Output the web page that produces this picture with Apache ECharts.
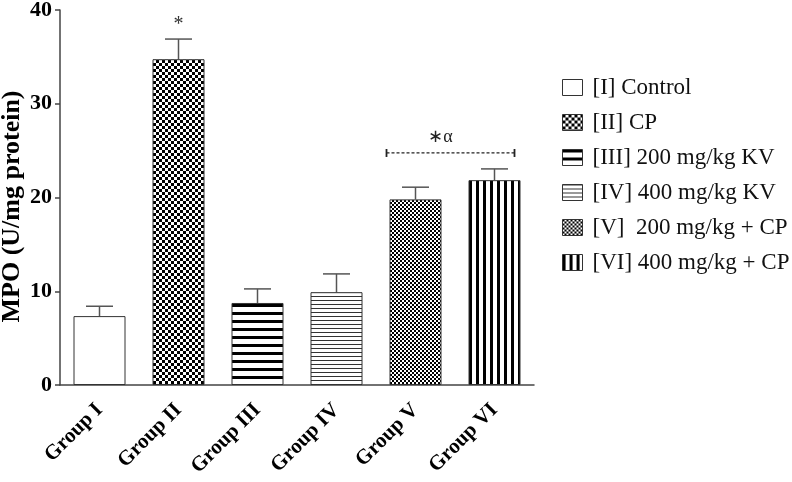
<!DOCTYPE html>
<html>
<head>
<meta charset="utf-8">
<script src="https://cdn.jsdelivr.net/npm/echarts@6/dist/echarts.min.js"></script>
<style>
  html, body { margin: 0; padding: 0; background: #fff; }
  #chart { width: 792px; height: 482px; }
</style>
</head>
<body>
<div id="chart"></div>
<script>
const groups = ['Group I', 'Group II', 'Group III', 'Group IV', 'Group V', 'Group VI']
const legendNames = ['[I] Control', '[II] CP', '[III] 200 mg/kg KV', '[IV] 400 mg/kg KV', '[V]  200 mg/kg + CP', '[VI] 400 mg/kg + CP']
const mpoMean = [7.35, 34.75, 8.75, 9.9, 19.8, 21.85]
const mpoSem = [1.05, 2.15, 1.5, 1.95, 1.3, 1.2]
const yTicks = [0, 10, 20, 30, 40]

// significance marks
const starGroup = 'Group II'
const starLevel = 38.4
const bracketGroups = ['Group V', 'Group VI']
const bracketLevel = 24.75
const bracketTextLevel = 26.45

const serif = '"Liberation Serif", "Times New Roman", serif'

function makePattern(w, h, draw) {
  const c = document.createElement('canvas')
  c.width = w
  c.height = h
  const ctx = c.getContext('2d')
  ctx.fillStyle = '#fff'
  ctx.fillRect(0, 0, w, h)
  ctx.fillStyle = '#000'
  draw(ctx)
  return { image: c, repeat: 'repeat' }
}

const fills = [
  '#fff',
  makePattern(6, 6, ctx => { ctx.fillRect(0, 0, 3, 3); ctx.fillRect(3, 3, 3, 3) }),
  makePattern(8, 8, ctx => { ctx.fillRect(0, 0, 8, 3) }),
  makePattern(4, 4, ctx => { ctx.fillStyle = '#333'; ctx.fillRect(0, 0, 4, 1) }),
  makePattern(4, 4, ctx => { ctx.fillRect(0, 0, 2, 2); ctx.fillRect(2, 2, 2, 2) }),
  makePattern(7, 7, ctx => { ctx.fillRect(0, 0, 3, 7) })
]

const barSeries = legendNames.map((name, i) => ({
  name,
  type: 'bar',
  barWidth: 52,
  barGap: '-100%',
  data: mpoMean.map((v, j) => (j === i ? v : '-')),
  itemStyle: { color: fills[i], borderColor: '#333', borderWidth: 1 },
  z: 2
}))

const errorSeries = {
  type: 'custom',
  z: 1,
  silent: true,
  data: mpoMean.map((m, i) => [i, m, m + mpoSem[i]]),
  renderItem: (params, api) => {
    const base = api.coord([api.value(0), api.value(1)])
    const top = api.coord([api.value(0), api.value(2)])
    const half = 13.5
    const style = { stroke: '#555', lineWidth: 1.5 }
    return {
      type: 'group',
      children: [
        { type: 'line', shape: { x1: base[0], y1: base[1], x2: top[0], y2: top[1] }, style },
        { type: 'line', shape: { x1: top[0] - half, y1: top[1], x2: top[0] + half, y2: top[1] }, style }
      ]
    }
  }
}

const markSeries = {
  type: 'custom',
  z: 3,
  silent: true,
  data: [0],
  renderItem: (params, api) => {
    const star = api.coord([groups.indexOf(starGroup), starLevel])
    const left = api.coord([groups.indexOf(bracketGroups[0]), bracketLevel])
    const right = api.coord([groups.indexOf(bracketGroups[1]), bracketLevel])
    const textPt = api.coord([groups.indexOf(bracketGroups[0]), bracketTextLevel])
    const x1 = left[0] - 29
    const x2 = right[0] + 20
    const y = left[1]
    return {
      type: 'group',
      children: [
        { type: 'text', style: { x: star[0], y: star[1], text: '*', font: '20px ' + serif, fill: '#333', align: 'center', verticalAlign: 'middle' } },
        { type: 'line', shape: { x1, y1: y, x2, y2: y }, style: { stroke: '#222', lineWidth: 1.2, lineDash: [3, 2] } },
        { type: 'line', shape: { x1, y1: y - 4, x2: x1, y2: y + 4 }, style: { stroke: '#222', lineWidth: 1.8 } },
        { type: 'line', shape: { x1: x2, y1: y - 4, x2, y2: y + 4 }, style: { stroke: '#222', lineWidth: 1.8 } },
        { type: 'text', style: { x: (x1 + x2) / 2 - 10, y: textPt[1], text: '∗α', font: '18px ' + serif, fill: '#222', align: 'center', verticalAlign: 'middle' } }
      ]
    }
  }
}

const chart = echarts.init(document.getElementById('chart'))
chart.setOption({
  animation: false,
  backgroundColor: '#fff',
  grid: { left: 60, top: 10, right: 258, bottom: 97, containLabel: false, outerBoundsMode: 'none' },
  legend: {
    orient: 'vertical',
    left: 562,
    top: 76,
    padding: 0,
    icon: 'rect',
    itemWidth: 20,
    itemHeight: 16,
    itemGap: 12,
    data: legendNames,
    itemStyle: { borderColor: '#333', borderWidth: 1 },
    textStyle: { fontFamily: serif, fontSize: 23, lineHeight: 23, color: '#111', padding: [0, 0, 0, 5] }
  },
  xAxis: {
    type: 'category',
    data: groups,
    axisLine: { lineStyle: { color: '#444', width: 1.5 } },
    axisTick: { alignWithLabel: true, length: 6, lineStyle: { color: '#444', width: 1.5 } },
    axisLabel: { rotate: 45, margin: 22, fontFamily: serif, fontWeight: 'bold', fontSize: 21, color: '#000' }
  },
  yAxis: {
    type: 'value',
    min: yTicks[0],
    max: yTicks[yTicks.length - 1],
    interval: yTicks[1] - yTicks[0],
    name: 'MPO (U/mg protein)',
    nameLocation: 'middle',
    nameGap: 35,
    nameMoveOverlap: false,
    nameTextStyle: { fontFamily: serif, fontWeight: 'bold', fontSize: 26, color: '#000', padding: [0, 18, 0, 0] },
    splitLine: { show: false },
    axisLine: { show: true, lineStyle: { color: '#444', width: 1.5 } },
    axisTick: { show: true, length: 5, lineStyle: { color: '#444', width: 1.5 } },
    axisLabel: { margin: 8, fontFamily: serif, fontWeight: 'bold', fontSize: 22, color: '#000' }
  },
  series: [...barSeries, errorSeries, markSeries]
})
</script>
</body>
</html>
